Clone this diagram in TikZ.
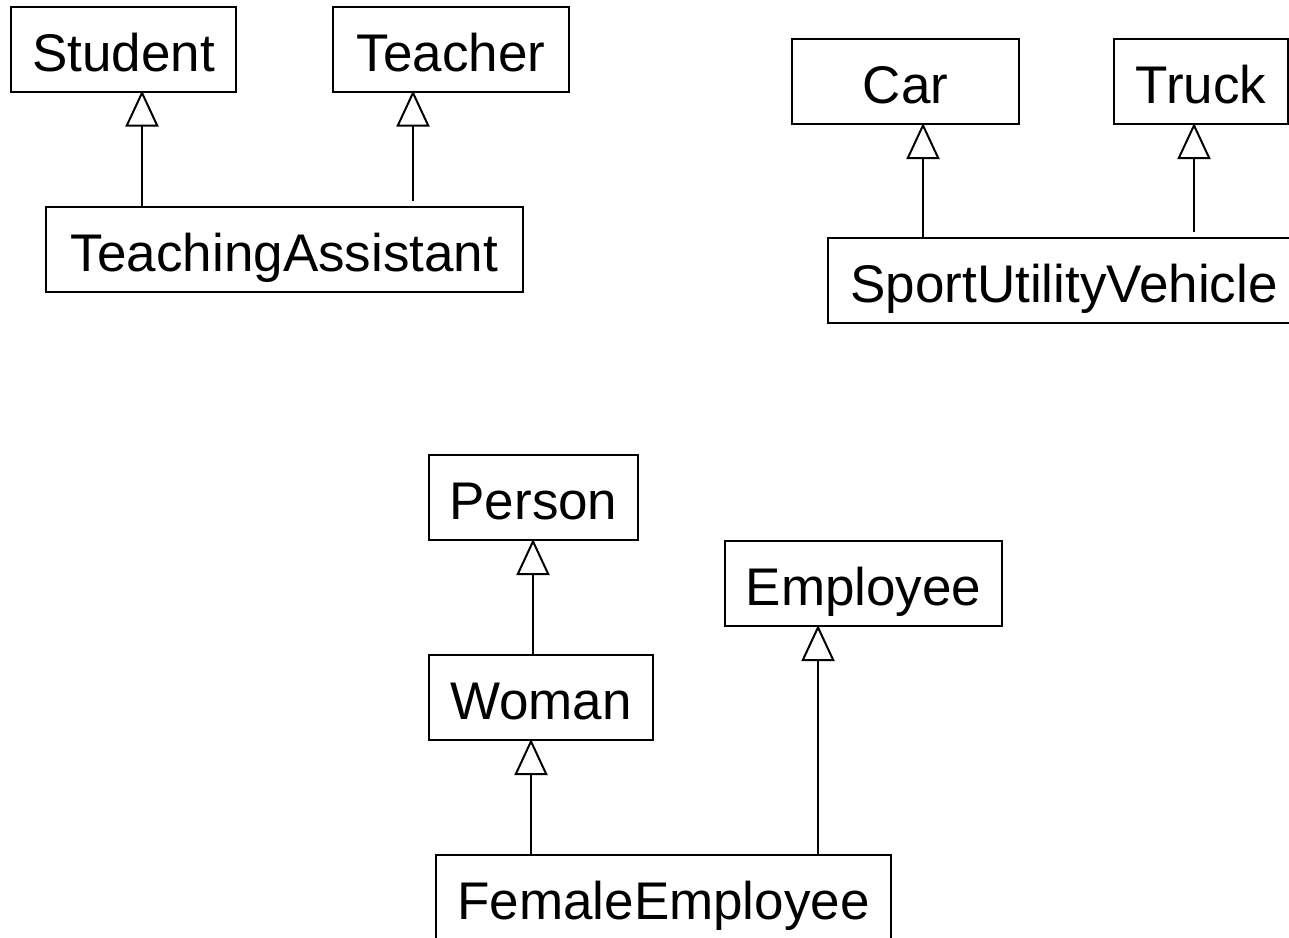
\documentclass[tikz,border=0pt]{standalone}
\usepackage{fontspec}
\setmainfont{Liberation Sans}
\usetikzlibrary{arrows.meta}
\tikzset{
  cls/.style={draw, line width=2pt, inner sep=0pt, text height=44pt, text depth=0pt,
    font=\fontsize{53}{60}\selectfont, minimum height=85pt},
  gen/.style={line width=2pt, line join=miter, shorten >=-2pt,
    -{Triangle[open, length=36pt, width=33pt, fill=white]}},
}
\begin{document}
\begin{tikzpicture}[x=1pt, y=-1pt]
\useasboundingbox (0,0) rectangle (1289,937);
\clip (0,0) rectangle (1289,937);
% multiple inheritance: teaching assistant
\node[cls, minimum width=225pt] (Student) at (123.5,49) {Student};
\node[cls, minimum width=236pt] (Teacher) at (451,49) {Teacher};
\node[cls, minimum width=477pt] (TA) at (284.5,249.5) {TeachingAssistant};
% multiple inheritance: vehicles
\node[cls, minimum width=227pt] (Car) at (905.5,81.5) {Car};
\node[cls, minimum width=174pt] (Truck) at (1201,81.5) {Truck};
\node[cls, minimum width=472pt] (SUV) at (1064,280.5) {SportUtilityVehicle};
% person hierarchy
\node[cls, minimum width=209pt] (Person) at (533.5,497.5) {Person};
\node[cls, minimum width=277pt] (Employee) at (863.5,583.5) {Employee};
\node[cls, minimum width=224pt] (Woman) at (541,697.5) {Woman};
\node[cls, minimum width=455pt] (FE) at (663.5,897.5) {FemaleEmployee};
% generalisations
\draw[gen] (TA.north -| 142,0) -- (Student.south -| 142,0);
\draw[gen, shorten <=5pt] (TA.north -| 413,0) -- (Teacher.south -| 413,0);
\draw[gen] (SUV.north -| 923,0) -- (Car.south -| 923,0);
\draw[gen, shorten <=5pt] (SUV.north -| 1194,0) -- (Truck.south -| 1194,0);
\draw[gen] (Woman.north -| 533,0) -- (Person.south -| 533,0);
\draw[gen] (FE.north -| 531,0) -- (Woman.south -| 531,0);
\draw[gen] (FE.north -| 818,0) -- (Employee.south -| 818,0);
\end{tikzpicture}
\end{document}
